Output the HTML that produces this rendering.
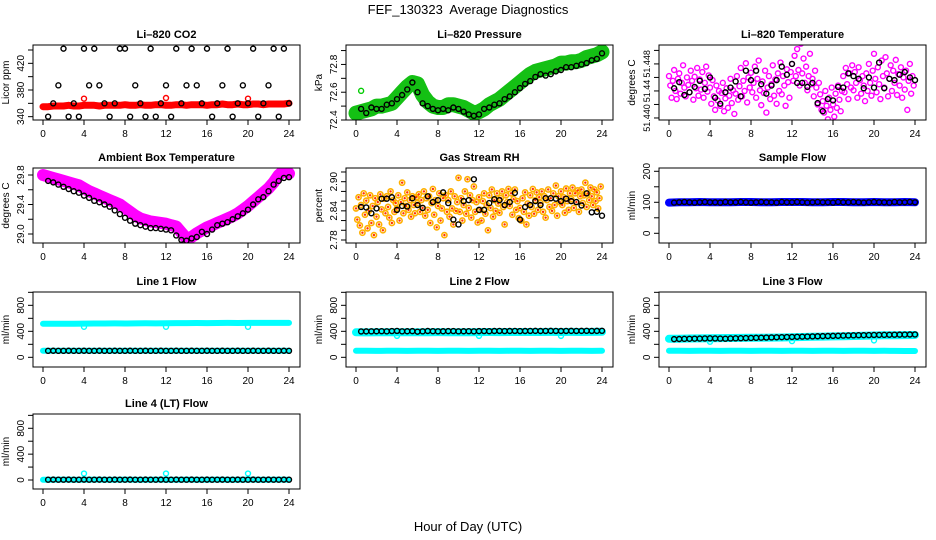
<!DOCTYPE html>
<html><head><meta charset="utf-8"><title>FEF_130323 Average Diagnostics</title>
<style>
html,body{margin:0;padding:0;background:#fff;}
svg{display:block;font-family:"Liberation Sans",Arial,sans-serif;}
</style></head>
<body>
<svg id="chart" width="936" height="540" viewBox="0 0 936 540" xmlns="http://www.w3.org/2000/svg">
<rect width="936" height="540" fill="#fff"/>
<text x="468" y="14" text-anchor="middle" font-size="13" style="white-space:pre">FEF_130323  Average Diagnostics</text>
<text x="468" y="531" text-anchor="middle" font-size="13">Hour of Day (UTC)</text>
</svg>
<script>
// ---------- data ----------
const xTicks = [0,4,8,12,16,20,24];
const co2Red = [355,355,356,356,356,357,356,356,357,357,357,356,357,357,357,357,358,357,357,358,357,357,358,358,357,357,358,358,357,358,358,358,357,358,358,359,358,358,359,358,358,359,359,358,359,359,359,359,360];
const co2Black = [340,360,387,442,340,360,340,442,387,442,387,360,340,360,442,442,340,387,360,340,442,340,360,387,340,442,360,387,442,387,360,442,340,360,387,442,340,360,387,360,442,340,360,387,442,340,442,360];
const presGreen = [72.45,72.46,72.47,72.48,72.50,72.50,72.51,72.52,72.56,72.60,72.64,72.67,72.66,72.58,72.53,72.50,72.49,72.49,72.51,72.51,72.50,72.49,72.47,72.45,72.46,72.48,72.51,72.53,72.55,72.58,72.61,72.64,72.67,72.70,72.73,72.75,72.76,72.77,72.78,72.79,72.81,72.81,72.82,72.82,72.83,72.85,72.86,72.87,72.89];
const presBlack = [72.48,72.45,72.49,72.48,72.48,72.51,72.52,72.55,72.58,72.62,72.67,72.60,72.52,72.50,72.48,72.47,72.48,72.47,72.49,72.48,72.46,72.44,72.43,72.44,72.48,72.49,72.51,72.52,72.55,72.57,72.60,72.63,72.66,72.68,72.71,72.73,72.72,72.73,72.75,72.76,72.78,72.78,72.79,72.80,72.81,72.83,72.84,72.88];
const tempMagenta = [
51.4462,51.4448,51.4430,51.4455,51.4471,51.4440,51.4428,51.4458,
51.4466,51.4436,51.4452,51.4478,51.4445,51.4432,51.4460,51.4449,
51.4438,51.4470,51.4455,51.4427,51.4461,51.4444,51.4474,51.4433,
51.4457,51.4442,51.4468,51.4430,51.4452,51.4476,51.4439,51.4463,
51.4445,51.4421,51.4456,51.4432,51.4412,51.4448,51.4426,51.4440,
51.4418,51.4437,51.4452,51.4410,51.4429,51.4444,51.4415,51.4433,
51.4458,51.4422,51.4441,51.4406,51.4436,51.4462,51.4427,51.4447,
51.4474,51.4432,51.4455,51.4440,51.4481,51.4423,51.4460,51.4445,
51.4467,51.4438,51.4452,51.4476,51.4430,51.4458,51.4485,51.4441,
51.4419,51.4454,51.4437,51.4470,51.4408,51.4445,51.4462,51.4428,
51.4450,51.4478,51.4433,51.4457,51.4421,51.4466,51.4440,51.4482,
51.4435,51.4462,51.4448,51.4418,51.4472,51.4453,51.4430,51.4468,
51.4480,51.4455,51.4492,51.4462,51.4502,51.4471,51.4448,51.4510,
51.4466,51.4488,51.4452,51.4476,51.4441,51.4462,51.4495,51.4450,
51.4458,51.4432,51.4470,51.4445,51.4420,51.4452,51.4435,51.4412,
51.4425,51.4408,51.4440,51.4418,51.4398,51.4430,51.4412,51.4445,
51.4420,51.4402,51.4436,51.4415,51.4448,51.4427,51.4410,51.4440,
51.4462,51.4438,51.4474,51.4450,51.4428,51.4466,51.4445,51.4478,
51.4441,51.4468,51.4452,51.4430,51.4475,51.4456,51.4436,51.4462,
51.4448,51.4425,51.4466,51.4440,51.4480,51.4452,51.4433,51.4470,
51.4495,51.4458,51.4438,51.4475,51.4450,51.4428,51.4485,51.4462,
51.4445,51.4490,51.4466,51.4432,51.4458,51.4478,51.4440,51.4470,
51.4452,51.4486,51.4434,51.4465,51.4448,51.4475,51.4430,51.4460,
51.4442,51.4470,51.4412,51.4455,51.4480,51.4436,51.4462,51.4448];
const tempBlack = [51.4444,51.4453,51.4434,51.4438,51.4446,51.4455,51.4443,51.4460,51.4430,51.4421,51.4438,51.4445,51.4454,51.4432,51.4470,51.4456,51.4470,51.4450,51.4436,51.4448,51.4456,51.4476,51.4464,51.4480,51.4452,51.4452,51.4446,51.4452,51.4422,51.4410,51.4428,51.4426,51.4446,51.4445,51.4466,51.4462,51.4458,51.4444,51.4460,51.4445,51.4482,51.4444,51.4458,51.4456,51.4464,51.4468,51.4460,51.4456];
const ambMagenta = [29.80,29.78,29.76,29.74,29.72,29.70,29.68,29.66,29.62,29.58,29.55,29.52,29.49,29.46,29.43,29.40,29.35,29.30,29.25,29.21,29.19,29.17,29.16,29.15,29.14,29.12,29.10,29.02,28.94,28.96,29.01,29.05,29.09,29.12,29.15,29.18,29.21,29.24,29.28,29.33,29.38,29.44,29.50,29.56,29.62,29.70,29.80,29.86,29.82];
const ambBlack = [29.72,29.70,29.67,29.64,29.61,29.58,29.56,29.52,29.49,29.45,29.43,29.40,29.37,29.32,29.27,29.22,29.18,29.14,29.12,29.10,29.08,29.08,29.07,29.06,29.05,28.98,28.92,28.91,28.94,28.96,29.03,29.00,29.06,29.12,29.14,29.16,29.20,29.24,29.28,29.33,29.40,29.47,29.50,29.58,29.67,29.72,29.76,29.77];
const rhOrange = [
2.845,2.822,2.868,2.810,2.852,2.795,2.876,2.832,
2.861,2.804,2.840,2.872,2.815,2.850,2.790,2.866,
2.828,2.858,2.812,2.874,2.843,2.800,2.865,2.835,
2.870,2.848,2.826,2.880,2.815,2.862,2.838,2.856,
2.845,2.872,2.820,2.858,2.898,2.835,2.866,2.850,
2.878,2.842,2.862,2.828,2.870,2.852,2.835,2.868,
2.856,2.874,2.838,2.862,2.846,2.880,2.830,2.866,
2.842,2.870,2.815,2.856,2.885,2.832,2.862,2.806,
2.850,2.876,2.820,2.845,2.866,2.790,2.872,2.838,
2.862,2.828,2.880,2.845,2.812,2.870,2.840,2.858,
2.908,2.838,2.866,2.820,2.852,2.880,2.834,2.905,
2.846,2.872,2.826,2.862,2.890,2.838,2.858,2.816,
2.868,2.842,2.820,2.860,2.876,2.834,2.852,2.800,
2.872,2.846,2.884,2.828,2.862,2.840,2.876,2.855,
2.836,2.866,2.880,2.848,2.812,2.872,2.858,2.885,
2.850,2.876,2.832,2.864,2.884,2.842,2.860,2.825,
2.846,2.820,2.866,2.838,2.878,2.812,2.855,2.830,
2.872,2.848,2.885,2.834,2.862,2.878,2.842,2.868,
2.856,2.880,2.838,2.870,2.826,2.862,2.884,2.848,
2.866,2.840,2.876,2.852,2.892,2.830,2.870,2.858,
2.880,2.852,2.868,2.836,2.886,2.860,2.842,2.876,
2.864,2.888,2.846,2.876,2.858,2.882,2.838,2.870,
2.884,2.856,2.872,2.898,2.848,2.876,2.862,2.888,
2.870,2.852,2.884,2.860,2.878,2.845,2.866,2.890];
const rhBlack = [2.848,2.847,2.835,2.845,2.865,2.865,2.868,2.842,2.850,2.849,2.866,2.852,2.846,2.870,2.858,2.862,2.878,2.856,2.822,2.812,2.860,2.862,2.905,2.842,2.842,2.856,2.864,2.862,2.852,2.858,2.877,2.822,2.848,2.852,2.860,2.852,2.866,2.866,2.865,2.860,2.865,2.860,2.858,2.851,2.876,2.837,2.838,2.830];
const sampleBlue = [99,100,100,101,100,100,100,101,101,100,100,101,101,101,100,100,101,101,100,100,101,100,100,101,100];
const sampleBlack = [99,100,101,100,99,100,101,100,100,99,101,100,100,101,100,99,100,101,100,100,99,101,100,100,101,100,99,100,101,100,100,99,101,100,100,101,100,99,100,101,100,100,99,101,100,100,101,100];
const l1CyanHigh = [515,516,518,517,519,520,520,522,521,522,523,522,525,526,527,528,527,528,529,528,529,530,529,530,530];
const l1CyanLow = [100,100,101,100,100,101,100,100,101,100,100,101,100,100,101,100,100,101,100,100,101,100,100,101,100];
const l1Black = [100,101,100,100,101,100,100,101,100,100,101,100,100,101,100,100,101,100,100,101,100,100,101,100,100,101,100,100,101,100,100,101,100,100,101,100,100,101,100,100,101,100,100,101,100,100,101,100];
const l2CyanHigh = [385,384,386,385,386,387,385,386,388,387,386,387,388,389,388,389,390,389,390,391,390,391,390,391,392];
const l2CyanLow = [100,100,99,100,100,99,100,100,99,100,100,99,100,100,99,100,100,99,100,100,99,100,100,99,100];
const l2Black = [398,399,400,401,402,400,404,406,400,401,403,395,400,405,402,400,401,403,404,400,401,402,400,403,404,402,405,406,404,405,406,404,405,406,407,405,406,407,406,405,406,407,406,407,408,406,407,408];
const l3CyanHigh = [285,287,289,291,293,295,297,299,300,302,303,305,310,313,316,319,322,325,328,332,335,338,340,342,344];
const l3CyanLow = [100,100,99,100,100,99,100,100,99,100,100,99,100,100,99,100,100,99,100,100,99,100,98,97,97];
const l3Black = [280,282,284,285,287,288,290,292,290,288,286,290,292,294,296,298,300,302,304,306,308,310,312,314,316,318,320,322,324,326,328,330,332,334,336,338,340,341,342,344,345,346,347,348,349,350,351,352];
const l4CyanLow = [5,5,6,5,5,6,5,5,6,5,5,6,5,5,6,5,5,6,5,5,6,5,5,6,5];
const l4Black = [5,6,5,5,6,5,5,6,5,5,6,5,5,6,5,5,6,5,5,6,5,5,6,5,5,6,5,5,6,5,5,6,5,5,6,5,5,6,5,5,6,5,5,6,5,5,6,5];
const outlierHours = [4,12,20];
const l1Outliers = [470,470,470];
const l2Outliers = [330,330,330];
const l3Outliers = [240,250,260];
const l4Outliers = [100,100,100];

// ---------- drawing ----------
const NS = 'http://www.w3.org/2000/svg';
const svg = document.getElementById('chart');
const PW = 267, PH = 75;
function mk(parent, tag, attrs, name) {
  const el = document.createElementNS(NS, tag);
  for (const k in attrs) el.setAttribute(k, attrs[k]);
  
  
  parent.appendChild(el);
  return el;
}
let clipId = 0;
function panel(cfg) {
  const g = mk(svg, 'g', {}, cfg.name + '-panel');
  const x0 = cfg.x0, y0 = cfg.y0;
  const sx = h => x0 + 10 + h * (246 / 24);
  const sy = v => y0 + PH - (v - cfg.ymin) / (cfg.ymax - cfg.ymin) * PH;
  mk(g, 'text', {x: x0 + PW / 2, y: y0 - 7, 'text-anchor': 'middle', 'font-size': 11, 'font-weight': 'bold'}, cfg.name + '-title').textContent = cfg.title;
  const xa = mk(g, 'g', {}, cfg.name + '-x-axis');
  mk(xa, 'line', {x1: sx(xTicks[0]), x2: sx(xTicks[xTicks.length - 1]), y1: y0 + PH, y2: y0 + PH, stroke: '#000'}, 'x-axis-line');
  xTicks.forEach(t => {
    mk(xa, 'line', {x1: sx(t), x2: sx(t), y1: y0 + PH, y2: y0 + PH + 5, stroke: '#000'}, 'x-tick');
    mk(xa, 'text', {x: sx(t), y: y0 + PH + 17, 'text-anchor': 'middle', 'font-size': 10}, 'x-tick-label').textContent = t;
  });
  const ya = mk(g, 'g', {}, cfg.name + '-y-axis');
  mk(ya, 'line', {x1: x0, x2: x0, y1: sy(cfg.ticks[0]), y2: sy(cfg.ticks[cfg.ticks.length - 1]), stroke: '#000'}, 'y-axis-line');
  cfg.ticks.forEach(t => mk(ya, 'line', {x1: x0 - 5, x2: x0, y1: sy(t), y2: sy(t), stroke: '#000'}, 'y-tick'));
  const fs = cfg.labelSize || 10;
  cfg.labels.forEach(t => {
    const yy = sy(t);
    mk(ya, 'text', {x: x0 - 9, y: yy, transform: `rotate(-90 ${x0 - 9} ${yy})`, 'text-anchor': 'middle', 'font-size': fs}, 'y-tick-label').textContent = cfg.fmt ? cfg.fmt(t) : t;
  });
  const yl = y0 + PH / 2;
  mk(g, 'text', {x: x0 - 24, y: yl, transform: `rotate(-90 ${x0 - 24} ${yl})`, 'text-anchor': 'middle', 'font-size': 10}, cfg.name + '-y-axis-title').textContent = cfg.ylab;
  const id = 'clip' + (clipId++);
  const cp = mk(g, 'clipPath', {id: id}, 'plot-clip');
  mk(cp, 'rect', {x: x0, y: y0, width: PW, height: PH}, 'plot-clip-rect');
  const plot = mk(g, 'g', {'clip-path': `url(#${id})`}, cfg.name + '-plot-area');
  mk(g, 'rect', {x: x0, y: y0, width: PW, height: PH, fill: 'none', stroke: '#000'}, cfg.name + '-box');
  return {plot, sx, sy};
}
function band(p, vals, color, w, name) {
  const step = 24 / (vals.length - 1);
  const pts = vals.map((v, i) => p.sx(i * step).toFixed(1) + ',' + p.sy(v).toFixed(1)).join(' ');
  mk(p.plot, 'polyline', {points: pts, fill: 'none', stroke: color, 'stroke-width': w, 'stroke-linejoin': 'round', 'stroke-linecap': 'round'}, name);
}
function dots(p, vals, t0, dt, color, name, r, sw, fill) {
  const g = mk(p.plot, 'g', {}, name);
  vals.forEach((v, i) => mk(g, 'circle', {cx: p.sx(t0 + i * dt), cy: p.sy(v), r: r || 2.5, fill: fill || 'none', stroke: color, 'stroke-width': sw || 1.4}, name + '-point'));
}
function pts(p, hrs, vals, color, name) {
  const g = mk(p.plot, 'g', {}, name);
  hrs.forEach((h, i) => mk(g, 'circle', {cx: p.sx(h), cy: p.sy(vals[i]), r: 2.5, fill: 'none', stroke: color, 'stroke-width': 1.4}, name + '-point'));
}
const cols = [33, 346, 659], rows = [45, 168, 292, 414];
const flowTicks = [0,200,400,600,800,1000], flowLabels = [0,400,800];

// Row 1
let p = panel({name: 'co2', title: 'Li\u2013820 CO2', ylab: 'Licor ppm', x0: cols[0], y0: rows[0], ymin: 335, ymax: 447.5, ticks: [340,360,380,400,420,440], labels: [340,380,420]});
band(p, co2Red, '#ff0000', 7, 'co2-red-series');
pts(p, [4,12,20], [367,368,367], '#ff0000', 'co2-red-outliers');
dots(p, co2Black, 0.5, 0.5, '#000', 'co2-black-series');

p = panel({name: 'pressure', title: 'Li\u2013820 Pressure', ylab: 'kPa', x0: cols[1], y0: rows[0], ymin: 72.4, ymax: 72.94, ticks: [72.4,72.5,72.6,72.7,72.8,72.9], labels: [72.4,72.6,72.8], fmt: v => v.toFixed(1)});
band(p, presGreen, '#14c014', 15, 'pressure-green-series');
pts(p, [0.5], [72.61], '#00cc00', 'pressure-green-outlier');
dots(p, presBlack, 0.5, 0.5, '#000', 'pressure-black-series');

p = panel({name: 'temperature', title: 'Li\u2013820 Temperature', ylab: 'degrees C', x0: cols[2], y0: rows[0], ymin: 51.4397, ymax: 51.4508, ticks: [51.440,51.442,51.444,51.446,51.448,51.450], labels: [51.440,51.444,51.448], labelSize: 9, fmt: v => v === 51.444 ? '51.44' : v.toFixed(3)});
dots(p, tempMagenta, 0, 0.125, '#ff00ff', 'temperature-magenta-series');
dots(p, tempBlack, 0.5, 0.5, '#000', 'temperature-black-series');

// Row 2
p = panel({name: 'ambient', title: 'Ambient Box Temperature', ylab: 'degrees C', x0: cols[0], y0: rows[1], ymin: 28.878, ymax: 29.895, ticks: [29.0,29.2,29.4,29.6,29.8], labels: [29.0,29.4,29.8], fmt: v => v.toFixed(1)});
band(p, ambMagenta, '#ff00ff', 12, 'ambient-magenta-series');
dots(p, ambBlack, 0.5, 0.5, '#000', 'ambient-black-series');

p = panel({name: 'rh', title: 'Gas Stream RH', ylab: 'percent', x0: cols[1], y0: rows[1], ymin: 2.7738, ymax: 2.9282, ticks: [2.78,2.80,2.82,2.84,2.86,2.88,2.90,2.92], labels: [2.78,2.84,2.90], fmt: v => v.toFixed(2)});
dots(p, rhOrange, 0, 0.125, '#ffb000', 'rh-orange-series', 2.6, 1.6, 'none');
dots(p, rhOrange, 0, 0.125, '#ff3000', 'rh-red-overlay', 0.9, 0.6, '#ff3000');
dots(p, rhBlack, 0.5, 0.5, '#000', 'rh-black-series');

p = panel({name: 'sample-flow', title: 'Sample Flow', ylab: 'ml/min', x0: cols[2], y0: rows[1], ymin: -31.3, ymax: 210.6, ticks: [0,50,100,150,200], labels: [0,100,200]});
band(p, sampleBlue, '#0000ff', 8, 'sample-flow-blue-series');
dots(p, sampleBlack, 0.5, 0.5, '#000', 'sample-flow-black-series');

// Row 3
p = panel({name: 'line1-flow', title: 'Line 1 Flow', ylab: 'ml/min', x0: cols[0], y0: rows[2], ymin: -149, ymax: 1005, ticks: flowTicks, labels: flowLabels});
band(p, l1CyanHigh, '#00ffff', 6, 'line1-cyan-high-series');
band(p, l1CyanLow, '#00ffff', 6, 'line1-cyan-low-series');
pts(p, outlierHours, l1Outliers, '#00ffff', 'line1-cyan-outliers');
dots(p, l1Black, 0.5, 0.5, '#000', 'line1-black-series');

p = panel({name: 'line2-flow', title: 'Line 2 Flow', ylab: 'ml/min', x0: cols[1], y0: rows[2], ymin: -149, ymax: 1005, ticks: flowTicks, labels: flowLabels});
band(p, l2CyanHigh, '#00ffff', 8, 'line2-cyan-high-series');
band(p, l2CyanLow, '#00ffff', 6, 'line2-cyan-low-series');
pts(p, outlierHours, l2Outliers, '#00ffff', 'line2-cyan-outliers');
dots(p, l2Black, 0.5, 0.5, '#000', 'line2-black-series');

p = panel({name: 'line3-flow', title: 'Line 3 Flow', ylab: 'ml/min', x0: cols[2], y0: rows[2], ymin: -149, ymax: 1005, ticks: flowTicks, labels: flowLabels});
band(p, l3CyanHigh, '#00ffff', 8, 'line3-cyan-high-series');
band(p, l3CyanLow, '#00ffff', 6, 'line3-cyan-low-series');
pts(p, outlierHours, l3Outliers, '#00ffff', 'line3-cyan-outliers');
dots(p, l3Black, 0.5, 0.5, '#000', 'line3-black-series');

// Row 4
p = panel({name: 'line4-flow', title: 'Line 4 (LT) Flow', ylab: 'ml/min', x0: cols[0], y0: rows[3], ymin: -139, ymax: 1021, ticks: flowTicks, labels: flowLabels});
band(p, l4CyanLow, '#00ffff', 6, 'line4-cyan-series');
pts(p, outlierHours, l4Outliers, '#00ffff', 'line4-cyan-outliers');
dots(p, l4Black, 0.5, 0.5, '#000', 'line4-black-series');
</script>
</body></html>
